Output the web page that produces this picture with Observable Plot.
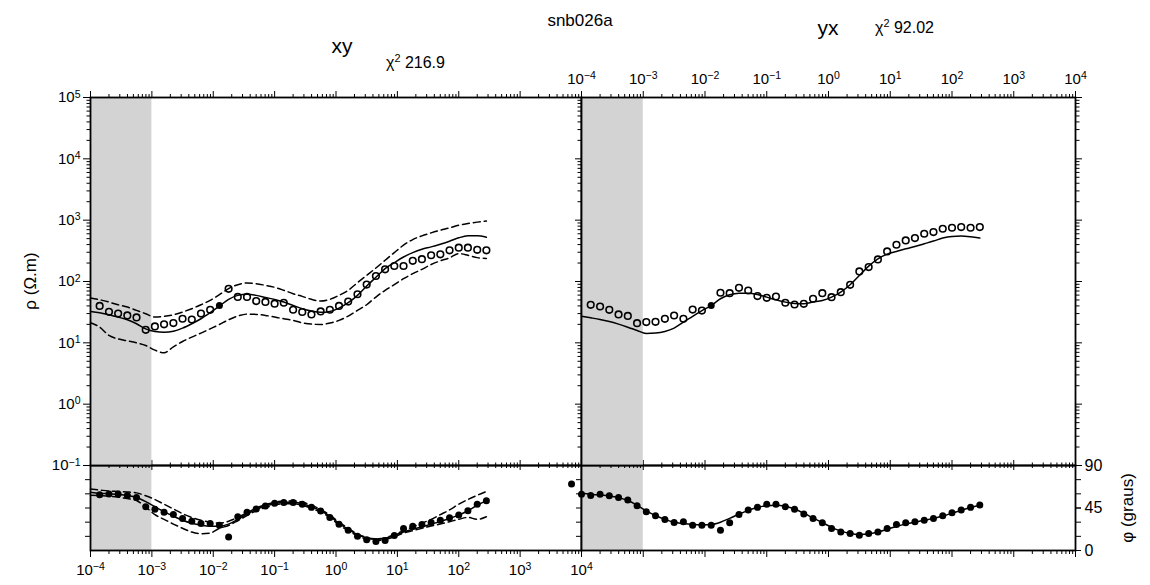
<!DOCTYPE html>
<html>
<head>
<meta charset="utf-8">
<script src="https://cdn.jsdelivr.net/npm/d3@7"></script>
<script src="https://cdn.jsdelivr.net/npm/@observablehq/plot@0.6"></script>
<style>
  html, body { margin: 0; padding: 0; background: #fff; }
  #chart { position: relative; width: 1150px; height: 585px; font-family: "Liberation Sans", Arial, sans-serif; color: #000; overflow: hidden; }
  #chart svg { position: absolute; left: 0; top: 0; }
  .lbl { position: absolute; white-space: nowrap; line-height: 1; }
  .lbl sup { font-size: 0.68em; vertical-align: 0.55em; line-height: 0; }
</style>
</head>
<body>
<div id="chart"></div>
<script>
// ---------------- data ----------------
const periods = [0.0001, 0.000141, 0.0002, 0.000282, 0.000398, 0.000562, 0.000794, 0.00112, 0.00158, 0.00224,
  0.00316, 0.00447, 0.00631, 0.00891, 0.0126, 0.0178, 0.0251, 0.0355, 0.0501, 0.0708,
  0.1, 0.141, 0.2, 0.282, 0.398, 0.562, 0.794, 1.12, 1.58, 2.24,
  3.16, 4.47, 6.31, 8.91, 12.6, 17.8, 25.1, 35.5, 50.1, 70.8,
  100, 141, 200, 282];

// xy apparent resistivity
const xyRhoObs = [null, 40, 32, 30, 28, 26, 16.3, 18.5, 20, 21, 24.7, 24, 30, 34.5, 40.7, 76, 56, 56, 48, 46.5,
  43.5, 45, 34.6, 31.8, 29, 32.5, 34.6, 40, 47, 62, 89, 123, 158, 179, 179, 217, 231, 268, 277, 322, 356, 356, 329, 322];
const xyRhoModel = [32.5, 31, 28.7, 26.3, 23.8, 20.5, 16.9, 15.3, 14.9, 15.5, 17.4, 20.5, 24.7, 31, 39.8, 51, 59.4, 61.7, 59.4, 55,
  51, 46.2, 40.8, 36, 33, 31.4, 32.5, 36.9, 45.1, 59.4, 84.5, 117, 162, 203, 251, 296, 336, 367, 406, 454, 515, 555, 555, 526];
const xyRhoUpper = [53.7, 50.4, 46.2, 41.8, 38.3, 33.8, 29.8, 26.3, 27, 28.7, 31.8, 36, 41.8, 49.2, 61, 76.4, 88.8, 94.6, 92.2, 86.6,
  80.4, 71.8, 63.3, 57.2, 51.2, 48, 51.2, 59.4, 71.8, 95.8, 126, 166, 222, 296, 391, 483, 555, 621, 687, 750, 829, 883, 929, 965];
const xyRhoLower = [21.2, 18.0, 13.2, 11.6, 10.8, 10, 9.04, 7.6, 6.9, 8.6, 10.5, 12.4, 14.4, 16.9, 19.9, 23.8, 27.3, 29.4, 29.1, 28,
  26.3, 24.7, 23.2, 21.2, 20.2, 19.9, 21, 23.2, 27.3, 33.8, 41.8, 55.8, 71.8, 88.8, 111, 134, 158, 189, 217, 243, 285, 268, 245, 237];

// xy phase
const xyPhiObs = [null, 58.9, 59.7, 59.7, 58.2, 56, 46.4, 43.6, 40.4, 38.2, 34, 31, 28.6, 28.6, 26.8, 14.3, 35.7, 40.4, 43.9, 47.1,
  50, 50.7, 50.7, 49, 45.7, 41.8, 35, 27.9, 21.4, 15, 11.4, 9.6, 10.7, 16, 23.2, 25.7, 27.5, 29.7, 32.1, 34.6, 37.5, 42.1, 49, 52.8];
const xyPhiModel = [61.8, 60.7, 60, 59.3, 58.2, 56.1, 51.8, 46.4, 41.1, 36.4, 32.1, 28.9, 26.8, 25.7, 25.7, 27.9, 32.9, 38.6, 43.6, 47.1,
  49.6, 51.1, 51.1, 49.6, 46.4, 42.1, 36.4, 28.6, 22.5, 16.8, 13.2, 11.8, 12.9, 16.1, 19.6, 22.5, 25, 27.9, 30.7, 33.9, 37.5, 42.1, 47.9, 52.8];
const xyPhiUpper = [65, 64, 63, 62.5, 62, 61, 58, 54, 49, 44, 39, 35, 32, 30, 29, 31, 35, 40, 45, 48.5,
  51, 52.5, 52.5, 51, 48, 43.5, 37.5, 30, 23.5, 17.5, 13.8, 12.3, 13.5, 17, 21, 25, 29, 33, 38, 43, 49, 54, 58.5, 62.5];
const xyPhiLower = [58.5, 58, 57.5, 56.5, 55, 53, 46, 38, 33, 28, 23.5, 19.5, 17.8, 18.5, 23.5, 26.5, 31.5, 37, 42, 45.5,
  48, 49.5, 49.5, 48, 44.5, 40.5, 35, 27, 21, 15.5, 12, 10.5, 11.5, 14.5, 18.5, 21, 23.5, 26, 28, 30.5, 33, 35, 33, 35.7];

// yx apparent resistivity
const yxRhoObs = [null, 41.7, 39.1, 34.5, 29, 27.5, 20.9, 21.8, 22, 24.6, 27.9, 24.6, 34.9, 33.6, 40.5, 65.5, 64.6, 78.9, 71.3, 57.8,
  54.2, 56.9, 45, 42.2, 43.2, 52.3, 64.6, 55.6, 67.1, 88.3, 146, 172, 229, 309, 397, 467, 511, 600, 640, 724, 752, 771, 752, 771];
const yxRhoModel = [27.2, 25.6, 24, 22.3, 20.2, 18, 15.9, 14.2, 14.4, 15.3, 17.4, 21.8, 26.9, 33.6, 40.5, 52.3, 60.7, 64.6, 64.6, 61.4,
  55.6, 50.2, 46.1, 43.8, 43.2, 46.1, 49, 55.6, 67.1, 88.3, 125, 178, 234, 280, 309, 341, 372, 412, 456, 511, 542, 550, 536, 511];

// yx phase
const yxPhiObs = [59.6, 58.2, 59.6, 57.9, 56.1, 53.6, 47.5, 41.1, 36.8, 32.9, 29.6, 30.4, 26.8, 26.8, 26.8, 21.4, 29.3, 38.2, 42.9, 45.7,
  48.9, 48.9, 46.4, 43.6, 38.6, 33.9, 29.3, 23.2, 19.6, 17.9, 16.1, 17.9, 19.6, 23.2, 27.5, 29.3, 30.4, 32.1, 33.9, 36.8, 40, 42.9, 45.7, 48.2];
const yxPhiModel = [60.5, 59.5, 58.8, 57.8, 56, 53, 48, 42, 37, 33, 30, 28.5, 27.5, 27, 27.5, 30, 34, 38.5, 42.5, 45.5,
  47.5, 48, 46.8, 44, 39.5, 34.5, 29.5, 24.5, 20.5, 18, 17, 17.5, 19.5, 22.5, 25.5, 28, 30, 32, 34, 36.5, 39.5, 42.5, 45.5, 48];
const yxPhiExtraPeriod = [0.000069];
const yxPhiExtraValue = [70.4];

// periods whose resistivity is drawn as a filled symbol
const filledRhoPeriods = [0.0126];

// shaded band and ticks
const shadeBand = [{from: 0.0001, to: 0.001}];
const periodTicks = [1e-4, 1e-3, 1e-2, 1e-1, 1, 10, 100, 1e3, 1e4];
const rhoTicks = [0.1, 1, 10, 100, 1e3, 1e4, 1e5];
const minorFactors = [2, 3, 4, 5, 6, 7, 8, 9];
const phiTicks = [0, 15, 30, 45, 60, 75, 90];
const phiLabels = [0, 45, 90];

const titleText = "snb026a";
const xyTitle = "xy", xyChi = "216.9";
const yxTitle = "yx", yxChi = "92.02";
const rhoLabel = "ρ (Ω.m)";
const phiLabel = "φ (graus)";

// ---------------- build ----------------
const minorOf = (majors) => majors.slice(0, -1).flatMap(m => minorFactors.map(f => m * f));
const periodMinor = minorOf(periodTicks);
const rhoMinor = minorOf(rhoTicks);
const blank = () => "";
const pow10 = d => "10^" + Math.round(Math.log10(d));

const rows = periods.map((T, i) => ({
  T,
  xyRho: xyRhoObs[i], xyRhoM: xyRhoModel[i], xyRhoU: xyRhoUpper[i], xyRhoL: xyRhoLower[i],
  xyPhi: xyPhiObs[i], xyPhiM: xyPhiModel[i], xyPhiU: xyPhiUpper[i], xyPhiL: xyPhiLower[i],
  yxRho: yxRhoObs[i], yxRhoM: yxRhoModel[i],
  yxPhi: yxPhiObs[i], yxPhiM: yxPhiModel[i],
  filled: filledRhoPeriods.includes(T)
}));
const extraRows = yxPhiExtraPeriod.map((T, i) => ({T, v: yxPhiExtraValue[i]}));

const W = 1150, H = 585;
const L = [90, 581], R = [581, 1075];
const rhoY = [97, 465], phiY = [465, 550];
const FRAME = 1.8, LW = 1.5;
const TICKFONT = 15;
const font = "'Liberation Sans', Arial, Helvetica, sans-serif";

function panel(xr, yr, yScale, marks) {
  return Plot.plot({
    width: W, height: H,
    marginLeft: xr[0], marginRight: W - xr[1], marginTop: yr[0], marginBottom: H - yr[1],
    x: {type: "log", domain: [1e-4, 1e4], label: null},
    y: Object.assign({label: null}, yScale),
    style: {background: "transparent", overflow: "visible", fontFamily: font, fontSize: TICKFONT + "px", color: "black"},
    marks
  });
}

const shade = Plot.rect(shadeBand, {x1: "from", x2: "to", fill: "#d3d3d3"});
const solid = (y) => Plot.line(rows, {x: "T", y, stroke: "black", strokeWidth: LW, curve: "monotone-x"});
const dashed = (y) => Plot.line(rows, {x: "T", y, stroke: "black", strokeWidth: LW, strokeDasharray: "7,4", curve: "monotone-x"});
const openDots = (y) => Plot.dot(rows.filter(d => !d.filled), {x: "T", y, r: 3.3, stroke: "black", strokeWidth: 1.6, fill: "none"});
const fullDots = (y, data = rows.filter(d => d.filled)) => Plot.dot(data, {x: "T", y, r: 3.5, fill: "black", stroke: "none"});
const frame = Plot.frame({stroke: "black", strokeWidth: FRAME});

const xTicks = (anchor, big, small, labels) => [
  Plot.axisX(periodMinor, {anchor, tickSize: small, tickFormat: blank, label: null}),
  Plot.axisX(periodTicks, {anchor, tickSize: big, tickPadding: labels ? 7 : 0, tickFormat: labels ? pow10 : blank, fontSize: TICKFONT, label: null})
];

// ----- phase panels (drawn first, underneath) -----
const xyPhi = panel(L, phiY, {domain: [0, 90]}, [
  shade,
  dashed("xyPhiU"), dashed("xyPhiL"), solid("xyPhiM"),
  fullDots("xyPhi", rows),
  frame,
  Plot.axisY(phiTicks.slice(1, -1), {anchor: "left", tickSize: 5, tickFormat: blank, label: null}),
  ...xTicks("bottom", 7, 4, true),
  ...xTicks("top", 6, 3.5, false)
]);

const yxPhi = panel(R, phiY, {domain: [0, 90]}, [
  shade,
  solid("yxPhiM"),
  fullDots("yxPhi", rows),
  Plot.dot(extraRows, {x: "T", y: "v", r: 3.5, fill: "black"}),
  frame,
  Plot.axisY(phiTicks.slice(1, -1), {anchor: "left", tickSize: 5, tickFormat: blank, label: null}),
  Plot.axisY(phiTicks, {anchor: "right", tickSize: 5, tickFormat: blank, label: null}),
  Plot.axisY(phiLabels, {anchor: "right", tickSize: 5, tickPadding: 4, tickFormat: d => String(d), fontSize: 16, label: null}),
  ...xTicks("bottom", 7, 4, false),
  ...xTicks("top", 6, 3.5, false)
]);

// ----- resistivity panels -----
const xyRho = panel(L, rhoY, {type: "log", domain: [0.1, 1e5]}, [
  shade,
  dashed("xyRhoU"), dashed("xyRhoL"), solid("xyRhoM"),
  openDots("xyRho"), fullDots("xyRho"),
  frame,
  Plot.axisY(rhoMinor, {anchor: "left", tickSize: 3.5, tickFormat: blank, label: null}),
  Plot.axisY(rhoTicks, {anchor: "left", tickSize: 7, tickPadding: 3, tickFormat: pow10, fontSize: TICKFONT, label: null}),
  ...xTicks("top", 7, 4, false),
  ...xTicks("bottom", 5, 3, false)
]);

const yxRho = panel(R, rhoY, {type: "log", domain: [0.1, 1e5]}, [
  shade,
  solid("yxRhoM"),
  openDots("yxRho"), fullDots("yxRho"),
  frame,
  Plot.axisY(rhoMinor, {anchor: "left", tickSize: 3.5, tickFormat: blank, label: null}),
  Plot.axisY(rhoTicks, {anchor: "left", tickSize: 6, tickFormat: blank, label: null}),
  Plot.axisY(rhoMinor, {anchor: "right", tickSize: 3.5, tickFormat: blank, label: null}),
  Plot.axisY(rhoTicks, {anchor: "right", tickSize: 6, tickFormat: blank, label: null}),
  ...xTicks("top", 7, 4, true),
  ...xTicks("bottom", 5, 3, false)
]);

const chart = document.getElementById("chart");
const SVGNS = "http://www.w3.org/2000/svg";
for (const svg of [xyPhi, yxPhi, xyRho, yxRho]) {
  svg.querySelectorAll("text").forEach(t => {
    const m = /^10\^(-?\d+)$/.exec(t.textContent);
    if (!m) return;
    t.textContent = "";
    const base = document.createElementNS(SVGNS, "tspan");
    base.textContent = "10";
    const sup = document.createElementNS(SVGNS, "tspan");
    sup.setAttribute("dy", "-0.45em");
    sup.setAttribute("font-size", "0.7em");
    sup.textContent = m[1].replace("-", "\u2212");
    t.append(base, sup);
  });
  chart.appendChild(svg);
}

// ----- titles and axis names -----
function addLabel(html, x, y, size, opts = {}) {
  const d = document.createElement("div");
  d.className = "lbl";
  d.innerHTML = html;
  d.style.fontSize = size + "px";
  d.style.left = x + "px";
  d.style.top = y + "px";
  const ax = opts.anchor === "start" ? "0" : "-50%";
  d.style.transform = `translate(${ax}, -50%)` + (opts.rotate ? ` rotate(${opts.rotate}deg)` : "");
  chart.appendChild(d);
}
addLabel(titleText, 580, 20, 17);
addLabel(xyTitle, 342, 45, 21);
addLabel(`χ<sup>2</sup> ${xyChi}`, 386, 63, 16, {anchor: "start"});
addLabel(yxTitle, 828, 27, 21);
addLabel(`χ<sup>2</sup> ${yxChi}`, 875, 28, 16, {anchor: "start"});
addLabel(rhoLabel, 30, 281, 17, {rotate: -90});
addLabel(phiLabel, 1127, 508, 17, {rotate: -90});
</script>
</body>
</html>
